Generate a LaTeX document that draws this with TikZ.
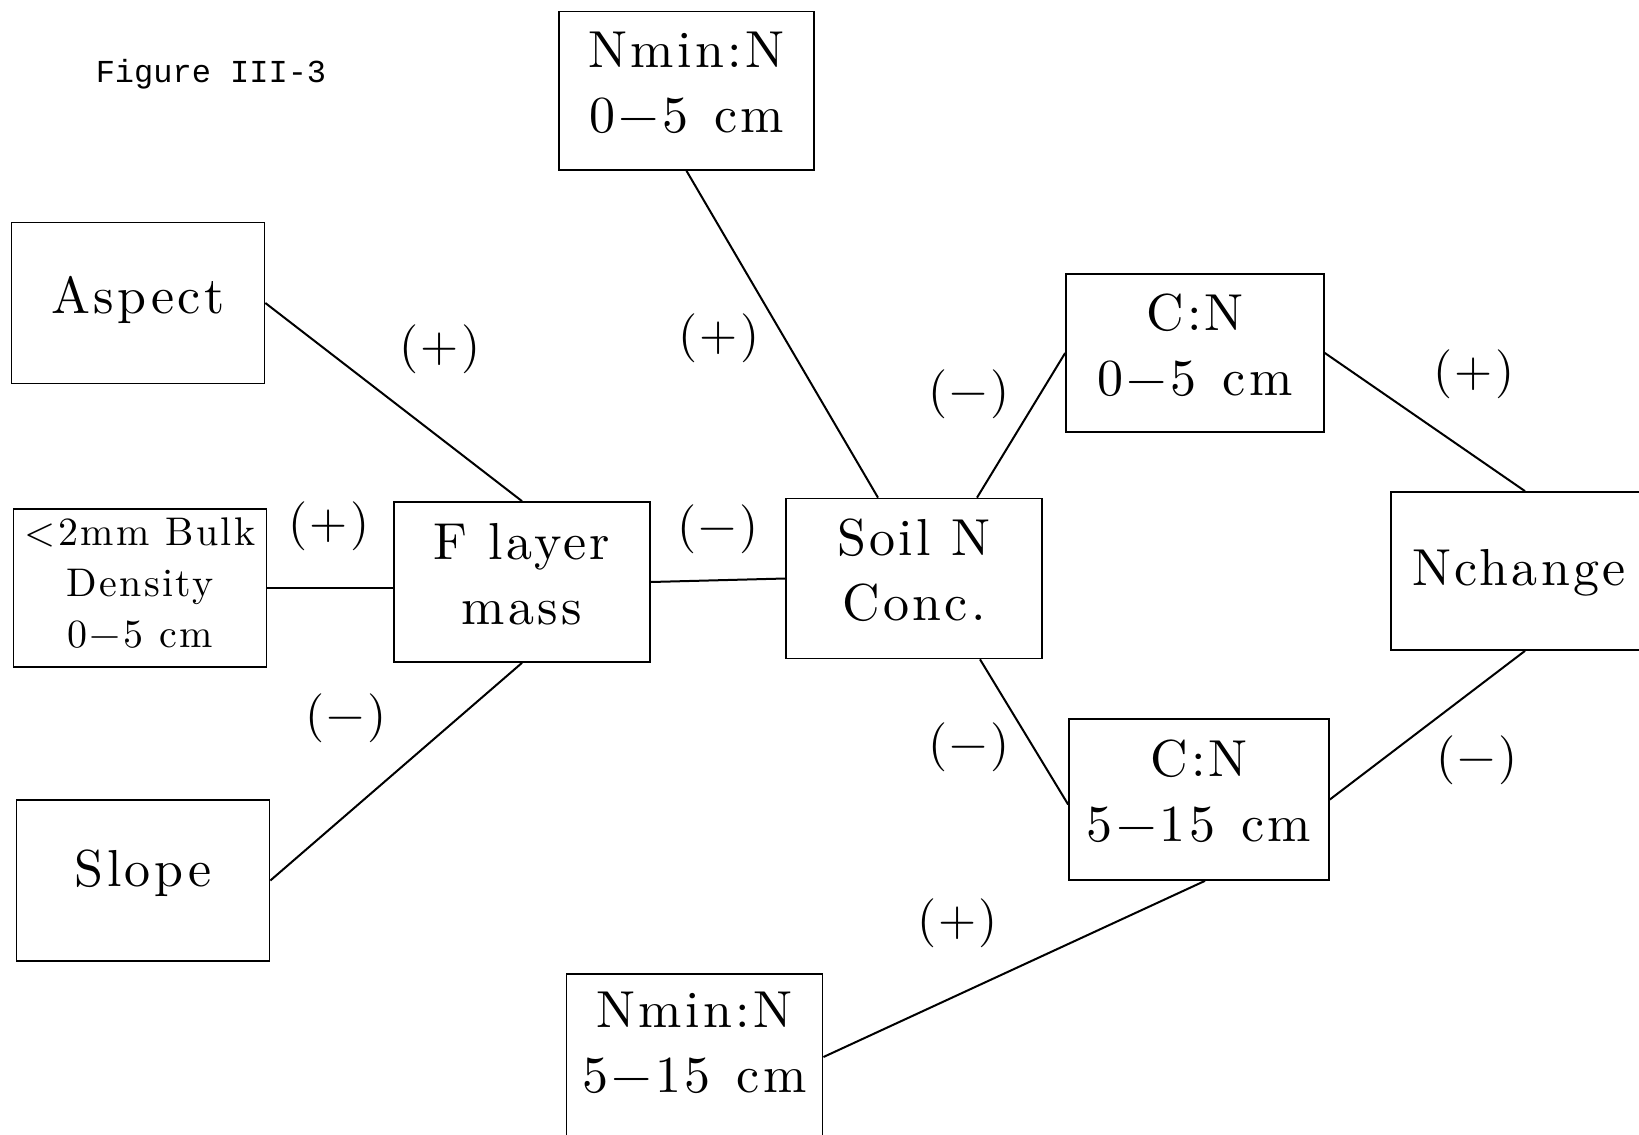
\documentclass[tikz,border=0pt]{standalone}
\usepackage{fontspec}
\newfontfamily\boxfont{lmroman10-regular.otf}[LetterSpace=6.5]
\newfontfamily\smallboxfont{lmroman10-regular.otf}[LetterSpace=6]
\newfontfamily\signfont{lmroman10-regular.otf}[LetterSpace=4]
\newfontfamily\figfont{Liberation Mono}
\newcommand{\cmgap}{\hspace{0.5em}}
\begin{document}
\begin{tikzpicture}[x=0.5pt,y=-0.5pt,
  box/.style={draw,line width=0.85pt,rectangle,inner sep=0pt,align=center,
    font=\fontsize{26}{32.5}\selectfont\boxfont},
  smallbox/.style={box,font=\fontsize{20}{25.4}\selectfont\smallboxfont},
  bl/.style={text height={10pt+#1},text depth=10pt},
  conn/.style={line width=1pt},
  sign/.style={inner sep=0pt,font=\fontsize{24.5}{24.5}\selectfont\signfont}]
\useasboundingbox (0,0) rectangle (1639,1135);
\clip (0,0) rectangle (1639,1135);
\fill[white] (0,0) rectangle (1639,1135);

\node[inner sep=0pt,font=\fontsize{16}{16}\selectfont\figfont] (fig) at (211,74) {Figure III-3};

\node[box,bl=41.25pt,minimum width=127.5pt,minimum height=79.25pt] (nminA) at (686.5,90.75) {Nmin:N\\0−5\cmgap cm};
\node[box,bl=10.6pt,minimum width=126.5pt,minimum height=80.5pt] (aspect) at (138,303) {Aspect};
\node[smallbox,bl=59pt,minimum width=126.5pt,minimum height=79pt] (bulk) at (140,588) {<2mm Bulk\\Density\\0−5 cm};
\node[box,bl=42pt,minimum width=128pt,minimum height=80pt] (flayer) at (522,582) {F layer\\mass};
\node[box,bl=41.5pt,minimum width=128pt,minimum height=80pt] (soiln) at (914,578.5) {Soil N\\Conc.};
\node[box,bl=42pt,minimum width=129pt,minimum height=79pt] (cnA) at (1195,353) {C:N\\0−5\cmgap cm};
\node[box,bl=14pt,minimum width=128pt,minimum height=79pt] (nchange) at (1519,571) {Nchange};
\node[box,bl=42.2pt,minimum width=130pt,minimum height=80.5pt] (cnB) at (1199,799.5) {C:N\\5−15\cmgap cm};
\node[box,bl=5.6pt,minimum width=126.5pt,minimum height=80.5pt] (slope) at (143,880.5) {Slope};
\node[box,bl=35.5pt,minimum width=128pt,minimum height=83pt] (nminB) at (694.6,1057) {Nmin:N\\5−15\cmgap cm};

\draw[conn] (aspect.east) -- (flayer.north);
\draw[conn] (bulk.east) -- (bulk.east -| flayer.west);
\draw[conn] (slope.east) -- (flayer.south);
\draw[conn] (flayer.east) -- (soiln.west);
\draw[conn] (nminA.south) -- ([xshift=-18pt]soiln.north);
\draw[conn] ([xshift=31.5pt]soiln.north) -- (cnA.west);
\draw[conn] (cnA.east) -- ([xshift=3pt]nchange.north);
\draw[conn] ([xshift=33pt]soiln.south) -- ([yshift=-2.5pt]cnB.west);
\draw[conn] (cnB.east) -- ([xshift=3pt]nchange.south);
\draw[conn] ([xshift=3pt]cnB.south) -- (nminB.east);

\node[sign] (s1) at (440,349) {(+)};
\node[sign] (s2) at (719,338) {(+)};
\node[sign] (s3) at (969,394) {(−)};
\node[sign] (s4) at (1474,374) {(+)};
\node[sign] (s5) at (329,526) {(+)};
\node[sign] (s6) at (718,529) {(−)};
\node[sign] (s7) at (346,718) {(−)};
\node[sign] (s8) at (969,747) {(−)};
\node[sign] (s9) at (1477,760) {(−)};
\node[sign] (s10) at (957.5,923) {(+)};
\end{tikzpicture}
\end{document}
